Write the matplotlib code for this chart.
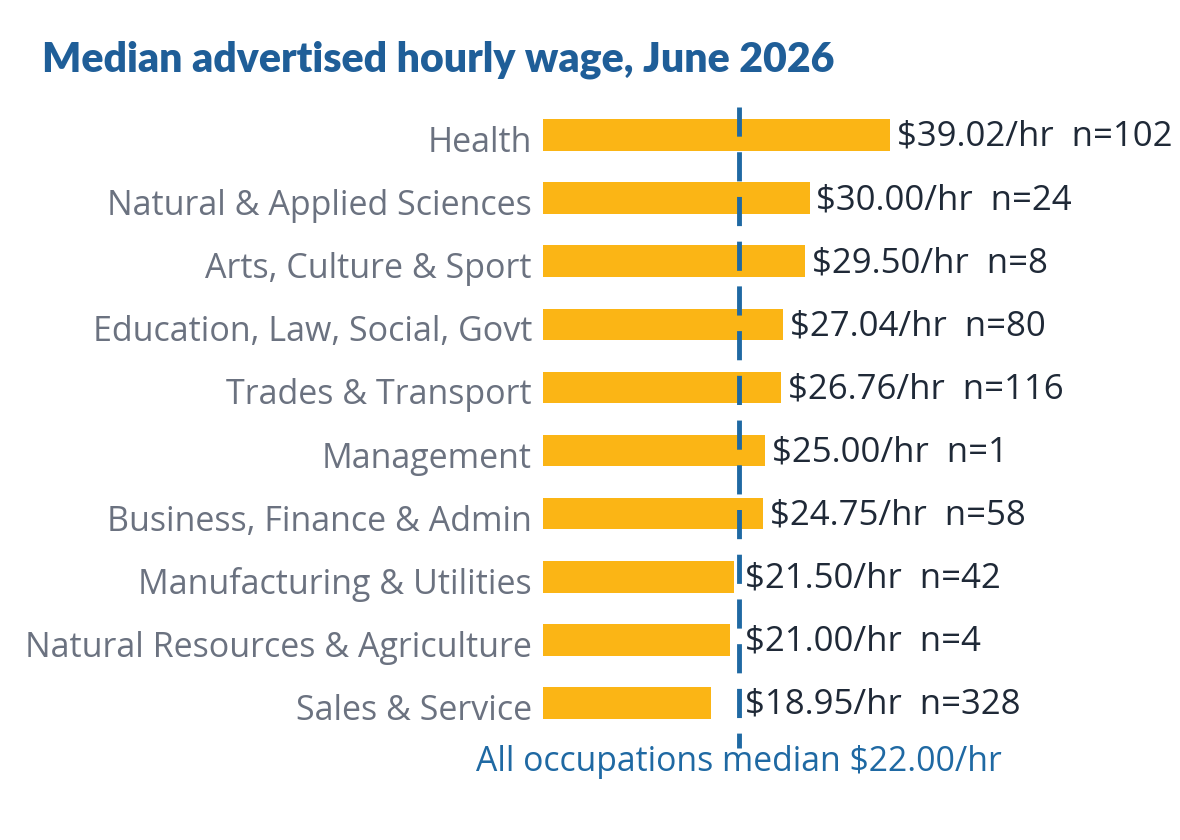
import matplotlib
matplotlib.use("Agg")
import matplotlib.pyplot as plt
from matplotlib.transforms import ScaledTranslation

categories = ["Health", "Natural & Applied Sciences", "Arts, Culture & Sport",
              "Education, Law, Social, Govt", "Trades & Transport", "Management",
              "Business, Finance & Admin", "Manufacturing & Utilities",
              "Natural Resources & Agriculture", "Sales & Service"]
wages = [39.02, 30.00, 29.50, 27.04, 26.76, 25.00, 24.75, 21.50, 21.00, 18.95]
counts = [102, 24, 8, 80, 116, 1, 58, 42, 4, 328]
overall_median = 22.00

BAR = "#FBB515"
LINE = "#1F69A3"
TITLE = "#1F5E98"
CAT = "#6B7280"
VAL = "#1F2937"

fig = plt.figure(figsize=(11.8, 8.4), dpi=100)
ax = fig.add_axes([543/1180, 1-734.5/840, (943-543)/1180, (734.5-103.5)/840])
ypos = list(range(len(categories)))
ax.barh(ypos, wages, height=0.5, color=BAR)
ax.set_xlim(0, 45)
ax.set_ylim(len(categories)-0.5, -0.5)
ax.plot([overall_median, overall_median], [-0.45, 9.72], color=LINE, lw=3.5,
        dashes=(6, 3.2), clip_on=False, solid_capstyle="butt", dash_capstyle="butt")

for sp in ax.spines.values():
    sp.set_visible(False)
ax.set_xticks([])
ax.set_yticks(ypos)
ax.set_yticklabels(categories, fontsize=24.5, color=CAT, fontfamily="Open Sans")
ax.tick_params(axis="y", length=0, pad=8)
shift = ScaledTranslation(0, -4/100, fig.dpi_scale_trans)
for lab in ax.get_yticklabels():
    lab.set_transform(lab.get_transform() + shift)

for y, w, n in zip(ypos, wages, counts):
    x = max(w, overall_median) + 0.75
    ax.text(x, y + 0.03, f"${w:.2f}/hr  n={n}", va="center", ha="left", fontsize=25,
            color=VAL, fontfamily="Open Sans", clip_on=False)

ax.text(overall_median, 9.93, f"All occupations median ${overall_median:.2f}/hr",
        ha="center", va="center", fontsize=24.3, color=LINE, fontfamily="Open Sans",
        clip_on=False)

fig.text(42/1180, 1-60/840, "Median advertised hourly wage, June 2026",
         fontsize=29.5, fontweight="heavy", color=TITLE, fontfamily="Lato",
         ha="left", va="center")

fig.savefig("out.png", dpi=100, facecolor="white")
